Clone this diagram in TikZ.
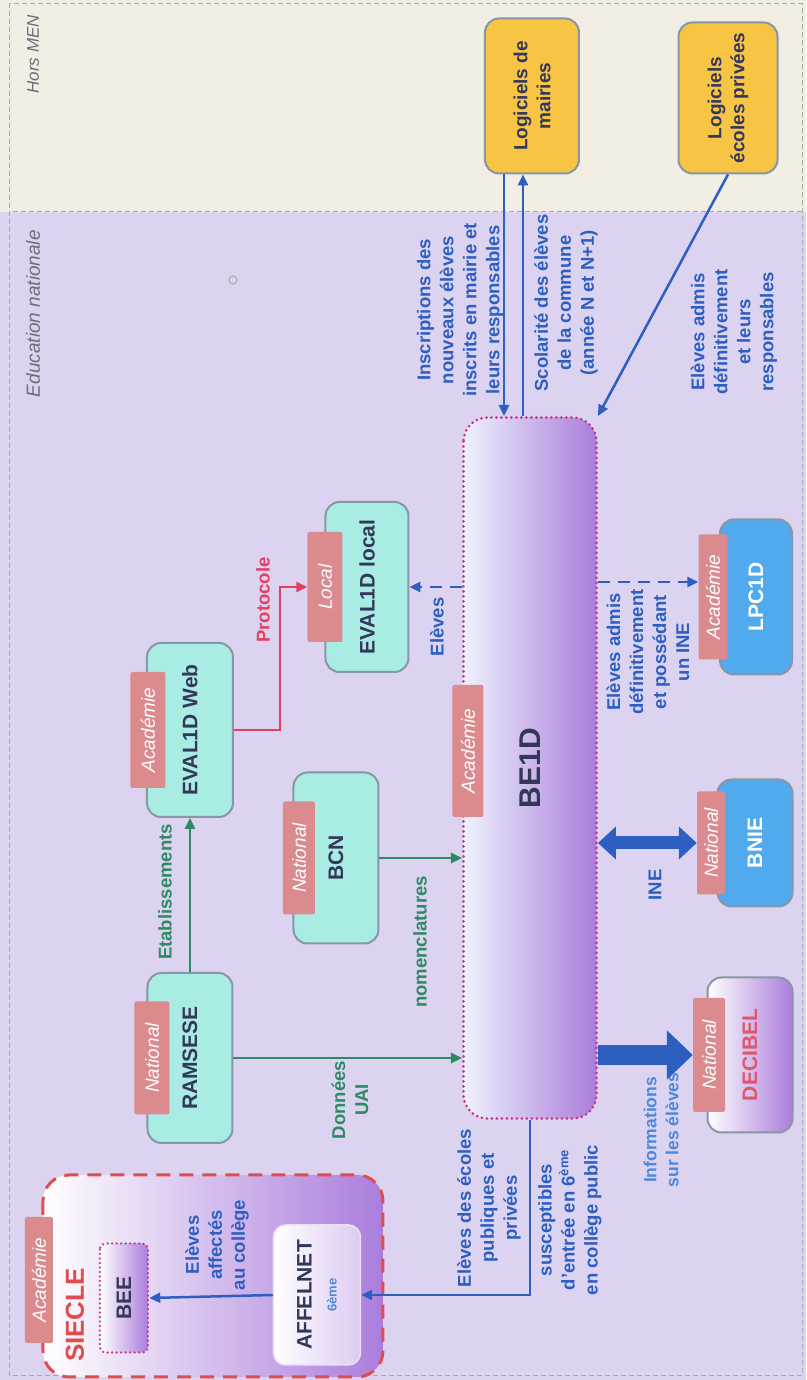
\documentclass[tikz,border=0pt]{standalone}
\usepackage{fontspec}
\setmainfont{Liberation Sans}
\usetikzlibrary{arrows.meta,calc}

\definecolor{lavbg}{HTML}{DCD3F0}
\definecolor{beigebg}{HTML}{F2EEE4}
\definecolor{zonegray}{HTML}{6E6E78}
\definecolor{tealfill}{HTML}{A8ECE4}
\definecolor{boxedge}{HTML}{8896A6}
\definecolor{tagpink}{HTML}{DB8A8D}
\definecolor{bluefill}{HTML}{52AAEE}
\definecolor{yellowfill}{HTML}{F7C444}
\definecolor{violetfill}{HTML}{AA7DDC}
\definecolor{paleblue}{HTML}{EEF2FD}
\definecolor{navytext}{HTML}{33385A}
\definecolor{flowblue}{HTML}{2D5EC2}
\definecolor{lightblue}{HTML}{4D88DC}
\definecolor{flowgreen}{HTML}{2E8A64}
\definecolor{protored}{HTML}{E2405E}
\definecolor{siecred}{HTML}{E24C4C}
\definecolor{decred}{HTML}{E0566A}
\definecolor{dotmagenta}{HTML}{C4388E}

\newcommand\sysnamefont{\fontsize{21}{25}\selectfont\bfseries}
\newcommand\tagtextfont{\fontsize{19}{22}\selectfont\itshape}
\newcommand\flowtextfont{\fontsize{18.5}{23}\selectfont\bfseries}
\newcommand\mainsysfont{\fontsize{30}{34}\selectfont\bfseries}
\newcommand\sieclefont{\fontsize{26}{30}\selectfont\bfseries}
\newcommand\softfont{\fontsize{19}{23}\selectfont\bfseries}
\newcommand\zonetextfont{\fontsize{19}{22}\selectfont\itshape}

\begin{document}
\begin{tikzpicture}[x=1pt,y=1pt,rotate=90,transform shape]
		\tikzstyle{every node}+=[inner sep=0pt]
		\tikzstyle{tealbox}=[draw=boxedge, line width=2pt, fill=tealfill, rounded corners=14pt, font=\sysnamefont, text=navytext]
		\tikzstyle{bluebox}=[draw=boxedge, line width=2pt, fill=bluefill, rounded corners=14pt, font=\sysnamefont, text=white]
		\tikzstyle{decibelbox}=[draw=boxedge, line width=2pt, rounded corners=14pt, left color=white, right color=violetfill, font=\sysnamefont, text=decred]
		\tikzstyle{yellowbox}=[draw=boxedge, line width=2pt, fill=yellowfill, rounded corners=14pt, font=\softfont, text=navytext, align=center]
		\tikzstyle{tagbox}=[fill=tagpink, rounded corners=2pt, font=\tagtextfont, text=white]
		\tikzstyle{be1dbox}=[draw=dotmagenta, line width=3pt, line cap=round, dash pattern=on 0pt off 5pt, rounded corners=24pt, left color=paleblue, right color=violetfill, font=\mainsysfont, text=navytext]
		\tikzstyle{sieclebox}=[draw=siecred, line width=3pt, dash pattern=on 14pt off 9pt, rounded corners=26pt, left color=white, right color=violetfill]
		\tikzstyle{beebox}=[draw=dotmagenta, line width=2.5pt, line cap=round, dash pattern=on 0pt off 4.5pt, rounded corners=6pt, left color=white, right color=violetfill, font=\sysnamefont, text=navytext]
		\tikzstyle{affelbox}=[draw=white!75!violetfill, line width=1.5pt, rounded corners=12pt, left color=white, right color=violetfill!40, font=\sysnamefont, text=navytext, align=center]
		\tikzstyle{flowtext}=[font=\flowtextfont, text=flowblue, align=center]
		\tikzstyle{greentext}=[font=\flowtextfont, text=flowgreen, align=center]
		\tikzstyle{prototext}=[font=\flowtextfont, text=protored]
		\tikzstyle{zonelabel}=[font=\zonetextfont, text=zonegray]
		\tikzstyle{flowarrow}=[draw=flowblue, line width=2.5pt, -{Triangle[length=11pt,width=10pt]}]
		\tikzstyle{greenarrow}=[draw=flowgreen, line width=2.5pt, -{Triangle[length=11pt,width=10pt]}]
		\tikzstyle{protoarrow}=[draw=protored, line width=2.5pt, -{Triangle[length=11pt,width=10pt]}]
		\tikzstyle{dashedarrow}=[draw=flowblue, line width=2.5pt, dash pattern=on 12pt off 8pt, -{Triangle[length=11pt,width=10pt]}]
		\tikzstyle{fatarrow}=[draw=flowblue, line width=20pt, -{Triangle[length=26pt,width=48pt]}]
		\tikzstyle{fatboth}=[draw=flowblue, line width=13pt, {Triangle[length=18pt,width=32pt]}-{Triangle[length=18pt,width=32pt]}]
		\useasboundingbox (0,0) rectangle (1380,806);
		% zones
		\fill [lavbg] (0,0) rectangle (1168,806);
		\fill [beigebg] (1168,0) rectangle (1380,806);
		\draw [zonegray!60, line width=1pt, dash pattern=on 5pt off 3pt] (4,4) rectangle (1376,796);
		\draw [zonegray!60, line width=1pt, dash pattern=on 5pt off 3pt] (1168,4) -- (1168,796);
		\node [zonelabel, anchor=east] (edu-label) at (1150,773) {Education nationale};
		\node [zonelabel, anchor=east, font=\fontsize{17}{20}\selectfont\itshape] (hors-label) at (1365,773) {Hors MEN};
		\draw [zonegray!50, line width=1.5pt] (1100,573) circle (4);
		% SIECLE
		\node [sieclebox, minimum width=202, minimum height=340] (siecle) at (104,593) {};
		\node [tagbox, minimum width=126, minimum height=28] (siecle-tag) at (100,767) {Académie};
		\node [font=\sieclefont, text=siecred] (siecle-title) at (65,731) {SIECLE};
		\node [beebox, minimum width=109, minimum height=48] (bee) at (82,682) {BEE};
		\node [affelbox, minimum width=140, minimum height=87] (affelnet) at (85,489) {AFFELNET\\{\fontsize{13}{15}\selectfont\color{lightblue}6ème}};
		% applications
		\node [tealbox, minimum width=170, minimum height=85] (ramsese) at (322,616) {RAMSESE};
		\node [tagbox, minimum width=113, minimum height=35] (ramsese-tag) at (322,654) {National};
		\node [tealbox, minimum width=174, minimum height=86] (web) at (650,616) {EVAL1D Web};
		\node [tagbox, minimum width=116, minimum height=35] (web-tag) at (650,658) {Académie};
		\node [tealbox, minimum width=171, minimum height=85] (bcn) at (522,470) {BCN};
		\node [tagbox, minimum width=113, minimum height=32] (bcn-tag) at (522,507) {National};
		\node [tealbox, minimum width=170, minimum height=83] (local) at (793,439) {EVAL1D local};
		\node [tagbox, minimum width=110, minimum height=35] (local-tag) at (793,481) {Local};
		\node [be1dbox, minimum width=701, minimum height=133] (be1d) at (612,276) {BE1D};
		\node [tagbox, minimum width=132, minimum height=31] (be1d-tag) at (629,338) {Académie};
		\node [decibelbox, minimum width=155, minimum height=85] (decibel) at (325,56) {DECIBEL};
		\node [tagbox, minimum width=114, minimum height=32] (decibel-tag) at (325,97) {National};
		\node [bluebox, minimum width=127, minimum height=75] (bnie) at (537,51) {BNIE};
		\node [tagbox, minimum width=103, minimum height=28] (bnie-tag) at (537,95) {National};
		\node [bluebox, minimum width=155, minimum height=72] (lpc) at (783,50) {LPC1D};
		\node [tagbox, minimum width=125, minimum height=29] (lpc-tag) at (783,93) {Académie};
		\node [yellowbox, minimum width=155, minimum height=94] (mairies) at (1284,274) {Logiciels de\\mairies};
		\node [yellowbox, minimum width=151, minimum height=99] (ecoles) at (1282,78) {Logiciels\\écoles privées};
		% labels
		\node [flowtext] (inscr-text) at (1070,346) {Inscriptions des\\nouveaux élèves\\inscrits en mairie et\\leurs responsables};
		\node [flowtext] (scol-text) at (1077,240) {Scolarité des élèves\\de la commune\\(année N et N+1)};
		\node [flowtext] (admis-text) at (1048,72) {Elèves admis\\définitivement\\et leurs\\responsables};
		\node [flowtext] (lpc-text) at (728,158) {Elèves admis\\définitivement\\et possédant\\un INE};
		\node [flowtext] (ine-text) at (495,151) {INE};
		\node [flowtext, text=lightblue, font=\fontsize{17.5}{22}\selectfont\bfseries] (info-text) at (250,145) {Informations\\sur les élèves};
		\node [flowtext] (eleves-text) at (753,369) {Elèves};
		\node [flowtext] (ecoles-text) at (172,317) {Elèves des écoles\\publiques et\\privées};
		\node [flowtext] (suscep-text) at (160,236) {susceptibles\\d'entrée en 6\textsuperscript{ème}\\en collège public};
		\node [flowtext] (affect-text) at (135,589) {Elèves\\affectés\\au collège};
		\node [greentext] (donnees-text) at (280,456) {Données\\UAI};
		\node [greentext] (nomencl-text) at (438,386) {nomenclatures};
		\node [greentext] (etab-text) at (488,641) {Etablissements};
		\node [prototext] (proto-text) at (780,543) {Protocole};
		% flows
		\coordinate (proto-bend) at (650,526);
		\coordinate (inscr-from) at ($(mairies.west)+(0,28)$);
		\coordinate (scol-to) at ($(mairies.west)+(0,9)$);
		\coordinate (lpc-in) at ($(lpc-tag.north)+(15,0)$);
		\draw [greenarrow] (ramsese.east) -- (web.west);
		\draw [greenarrow] (ramsese.south) -- (ramsese.south |- be1d.north);
		\draw [greenarrow] (bcn.south) -- (bcn.south |- be1d.north);
		\draw [protoarrow] (web.south) -- (proto-bend) -- (proto-bend -| local-tag.north) -- (local-tag.north);
		\draw [dashedarrow] (local.south |- be1d.north) -- (local.south);
		\draw [dashedarrow] (lpc-in |- be1d.south) -- (lpc-in);
		\draw [fatboth] (bnie-tag.north |- be1d.south) -- (bnie-tag.north);
		\draw [fatarrow] (decibel-tag.north |- be1d.south) -- (decibel-tag.north);
		\draw [flowarrow] (be1d.west) -- (affelnet.south |- be1d.west) -- (affelnet.south);
		\draw [flowarrow] (affelnet.north) -- (bee.south);
		\draw [flowarrow] (inscr-from) -- (inscr-from -| be1d.east);
		\draw [flowarrow] (scol-to -| be1d.east) -- (scol-to);
		\draw [flowarrow] (ecoles.west) -- (be1d.south east);
\end{tikzpicture}
\end{document}
